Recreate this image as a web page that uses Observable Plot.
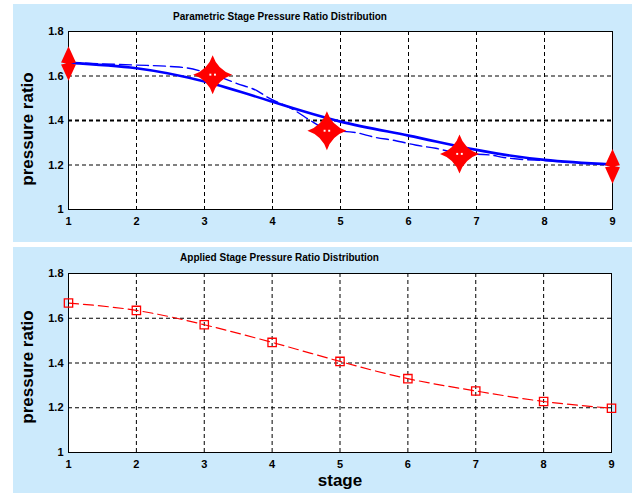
<!DOCTYPE html>
<html>
<head>
<meta charset="utf-8">
<script src="https://cdn.jsdelivr.net/npm/d3@7"></script>
<script src="https://cdn.jsdelivr.net/npm/@observablehq/plot@0.6"></script>
<style>
  html, body { margin: 0; padding: 0; background: #ffffff; }
  #root { position: relative; width: 632px; height: 493px; overflow: hidden; background: #ffffff; }
  .panel { position: absolute; left: 13px; width: 619px; background: #cceafc; }
  .panel svg { display: block; background: transparent; }
</style>
</head>
<body>
<div id="root">
  <div class="panel" id="top" style="top:4px;height:238px;"></div>
  <div class="panel" id="bottom" style="top:247px;height:246px;"></div>
</div>
<script>
// Compressor stages and pressure ratios
const stages = [1, 2, 3, 4, 5, 6, 7, 8, 9];
const gridStages = [2, 3, 4, 5, 6, 7, 8];
const yTicks = [1, 1.2, 1.4, 1.6, 1.8];
const yGrid = [1.2, 1.4, 1.6];

// Continuous parametric distribution (solid curve)
const curveRatio = [1.659, 1.635, 1.575, 1.484, 1.395, 1.332, 1.268, 1.223, 1.202];

// Control-point guide curve (dashed)
const guideStage = [1.0, 2.0, 2.5, 2.75, 3.12, 3.48, 3.77, 3.93, 4.3, 4.6, 4.8, 5.24, 5.5, 5.8, 6.1, 6.4, 6.75, 7.2, 7.4, 7.6, 8.0, 9.0];
const guideRatio = [1.66, 1.649, 1.643, 1.636, 1.606, 1.566, 1.534, 1.504, 1.45, 1.392, 1.358, 1.345, 1.325, 1.31, 1.29, 1.275, 1.252, 1.245, 1.234, 1.227, 1.220, 1.200];

// Free control points (move in both directions) and end points (vertical only)
const starStage = [3.12, 4.80, 6.75];
const starRatio = [1.606, 1.354, 1.250];
const endStage = [1, 9];
const endRatio = [1.656, 1.194];

// Applied stage pressure ratios
const appliedRatio = [1.668, 1.635, 1.571, 1.492, 1.407, 1.330, 1.275, 1.228, 1.198];

const topTitle = "Parametric Stage Pressure Ratio Distribution";
const bottomTitle = "Applied Stage Pressure Ratio Distribution";
const yLabel = "pressure ratio";
const xLabel = "stage";

const FONT = "'Liberation Sans', Arial, sans-serif";

// Four-pointed sparkle used for draggable control points
const star4 = {
  draw(ctx, size) {
    const R = Math.sqrt(size / Math.PI);
    const c = R * 0.25;
    ctx.moveTo(0, -R);
    ctx.quadraticCurveTo(c, -c, R, 0);
    ctx.quadraticCurveTo(c, c, 0, R);
    ctx.quadraticCurveTo(-c, c, -R, 0);
    ctx.quadraticCurveTo(-c, -c, 0, -R);
    ctx.closePath();
  }
};

// Vertical double arrow used for the fixed-stage end points
const vArrow = {
  draw(ctx, size) {
    const H = Math.sqrt(size / Math.PI);
    const w = H * 0.43;
    ctx.moveTo(0, -H);
    ctx.lineTo(w, -1);
    ctx.lineTo(w * 0.3, 0);
    ctx.lineTo(w, 1);
    ctx.lineTo(0, H);
    ctx.lineTo(-w, 1);
    ctx.lineTo(-w * 0.3, 0);
    ctx.lineTo(-w, -1);
    ctx.closePath();
  }
};

const curveData = stages.map((s, i) => ({stage: s, ratio: curveRatio[i]}));
const guideData = guideStage.map((s, i) => ({stage: s, ratio: guideRatio[i]}));
const starData = starStage.map((s, i) => ({stage: s, ratio: starRatio[i]}));
const endData = endStage.map((s, i) => ({stage: s, ratio: endRatio[i]}));
const appliedData = stages.map((s, i) => ({stage: s, ratio: appliedRatio[i]}));

function commonMarks(thickRule) {
  return [
    Plot.frame({fill: "white"}),
    Plot.ruleX(gridStages, {x: d => d, stroke: "black", strokeWidth: 1, strokeDasharray: "4,3"}),
    Plot.ruleY(yGrid, {y: d => d, stroke: "black", strokeWidth: d => (thickRule && d === 1.4 ? 2 : 1), strokeDasharray: "4,3"}),
    Plot.axisX(stages, {tickSize: 0, tickPadding: 8, fontSize: 11, fontWeight: "bold", tickFormat: d => String(d), label: null}),
    Plot.axisY(yTicks, {tickSize: 0, tickPadding: 5, fontSize: 11, fontWeight: "bold", tickFormat: d => String(d), label: null})
  ];
}

const topPlot = Plot.plot({
  width: 619,
  height: 238,
  marginLeft: 55,
  marginRight: 20,
  marginTop: 27,
  marginBottom: 33,
  style: {background: "transparent", fontFamily: FONT, color: "black"},
  x: {domain: [1, 9]},
  y: {domain: [1, 1.8]},
  marks: [
    ...commonMarks(true),
    Plot.line(guideData, {x: "stage", y: "ratio", curve: "monotone-x", stroke: "#0000ff", strokeWidth: 1.4, strokeDasharray: "12,5"}),
    Plot.line(curveData, {x: "stage", y: "ratio", curve: "natural", stroke: "#0000ff", strokeWidth: 2.6}),
    Plot.frame({stroke: "black", strokeWidth: 1}),
    Plot.dot(starData, {x: "stage", y: "ratio", symbol: star4, r: 19.5, fill: "#ff0000", stroke: "none"}),
    Plot.dot(starData, {x: "stage", y: "ratio", symbol: "square", r: 1.1, fill: "white", stroke: "none", dx: -2.3}),
    Plot.dot(starData, {x: "stage", y: "ratio", symbol: "square", r: 1.1, fill: "white", stroke: "none", dx: 2.3}),
    Plot.dot(endData, {x: "stage", y: "ratio", symbol: vArrow, r: 17.3, fill: "#ff0000", stroke: "none"}),
    Plot.text([topTitle], {text: d => d, frameAnchor: "top", dx: -60.5, dy: -11.5, lineAnchor: "bottom", fontSize: 10, fontWeight: "bold", fill: "black"}),
    Plot.text([yLabel], {text: d => d, frameAnchor: "left", textAnchor: "middle", lineAnchor: "middle", rotate: -90, dx: -40.5, dy: 8.5, fontSize: 17, fontWeight: "bold", fill: "black"})
  ]
});

const bottomPlot = Plot.plot({
  width: 619,
  height: 246,
  marginLeft: 55,
  marginRight: 21,
  marginTop: 26,
  marginBottom: 41,
  style: {background: "transparent", fontFamily: FONT, color: "black"},
  x: {domain: [1, 9]},
  y: {domain: [1, 1.8]},
  marks: [
    ...commonMarks(false),
    Plot.line(appliedData, {x: "stage", y: "ratio", curve: "natural", stroke: "#ff0000", strokeWidth: 1.2, strokeDasharray: "10,5"}),
    Plot.frame({stroke: "black", strokeWidth: 1}),
    Plot.dot(appliedData, {x: "stage", y: "ratio", symbol: "square", r: 4.7, fill: "none", stroke: "#ff0000", strokeWidth: 1.3}),
    Plot.text([bottomTitle], {text: d => d, frameAnchor: "top", dx: -60.5, dy: -12.5, lineAnchor: "bottom", fontSize: 10, fontWeight: "bold", fill: "black"}),
    Plot.text([yLabel], {text: d => d, frameAnchor: "left", textAnchor: "middle", lineAnchor: "middle", rotate: -90, dx: -40.5, dy: 4, fontSize: 17, fontWeight: "bold", fill: "black"}),
    Plot.text([xLabel], {text: d => d, frameAnchor: "bottom", dy: 33.5, lineAnchor: "bottom", fontSize: 17, fontWeight: "bold", fill: "black"})
  ]
});

document.getElementById("top").appendChild(topPlot);
document.getElementById("bottom").appendChild(bottomPlot);
</script>
</body>
</html>
